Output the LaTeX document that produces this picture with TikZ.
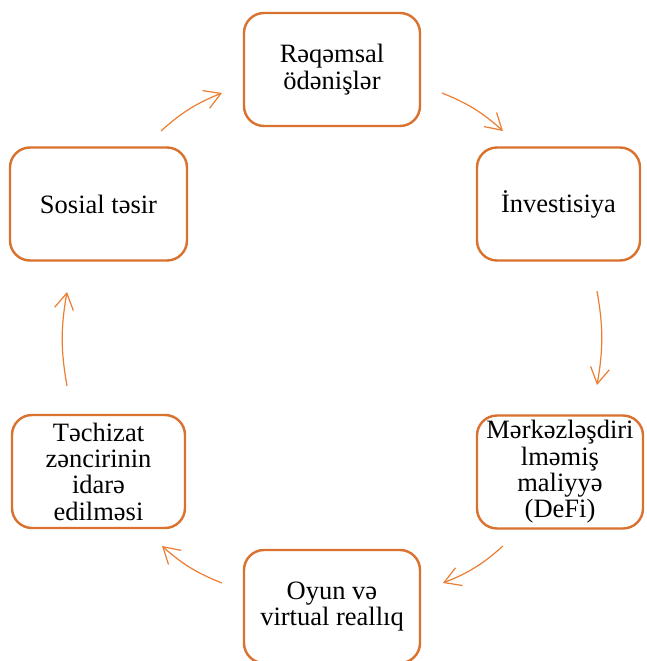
\documentclass[tikz,border=0pt]{standalone}
\usepackage{fontspec}
\setmainfont{Liberation Serif}
\usetikzlibrary{arrows.meta}
\definecolor{boxline}{HTML}{D9712F}
\definecolor{arrline}{HTML}{ED7D31}
\tikzset{
  cbox/.style={draw=boxline, line width=2.4pt, rounded corners=20pt, fill=white,
    minimum width=#1, minimum height=113pt, inner sep=0pt, align=center,
    font=\fontsize{26.5pt}{26.3pt}\selectfont},
  carrow/.style={draw=arrline, line width=1.2pt,
    -{Straight Barb[length=16pt,width=19pt,line width=1.2pt]}, bend left=10}
}
\begin{document}
\begin{tikzpicture}[x=1pt,y=1pt]
\useasboundingbox (0,0) rectangle (646,-661);
\fill[white] (0,0) rectangle (646,-661);
\node[cbox=176pt] (b1) at (332,-69.5) {Rəqəmsal\\ödənişlər};
\node[cbox=163pt] (b2) at (558.5,-204) {İnvestisiya};
\node[cbox=166pt] (b3) at (560,-472) {Mərkəzləşdiri\\lməmiş\\maliyyə\\(DeFi)};
\node[cbox=176pt] (b4) at (332,-606.5) {Oyun və\\virtual reallıq};
\node[cbox=173pt] (b5) at (98.5,-471.5) {Təchizat\\zəncirinin\\idarə\\edilməsi};
\node[cbox=177pt] (b6) at (98.5,-204) {Sosial təsir};
\coordinate (a1s) at (161,-131); \coordinate (a1e) at (222,-93);
\coordinate (a2s) at (442,-93);  \coordinate (a2e) at (503,-131);
\coordinate (a3s) at (597,-291); \coordinate (a3e) at (597,-385);
\coordinate (a4s) at (503,-546); \coordinate (a4e) at (443,-583);
\coordinate (a5s) at (222,-583); \coordinate (a5e) at (162,-546);
\coordinate (a6s) at (67,-386);  \coordinate (a6e) at (67,-292);
\draw[carrow] (a1s) to (a1e);
\draw[carrow] (a2s) to (a2e);
\draw[carrow] (a3s) to (a3e);
\draw[carrow] (a4s) to (a4e);
\draw[carrow] (a5s) to (a5e);
\draw[carrow] (a6s) to (a6e);
\end{tikzpicture}
\end{document}
